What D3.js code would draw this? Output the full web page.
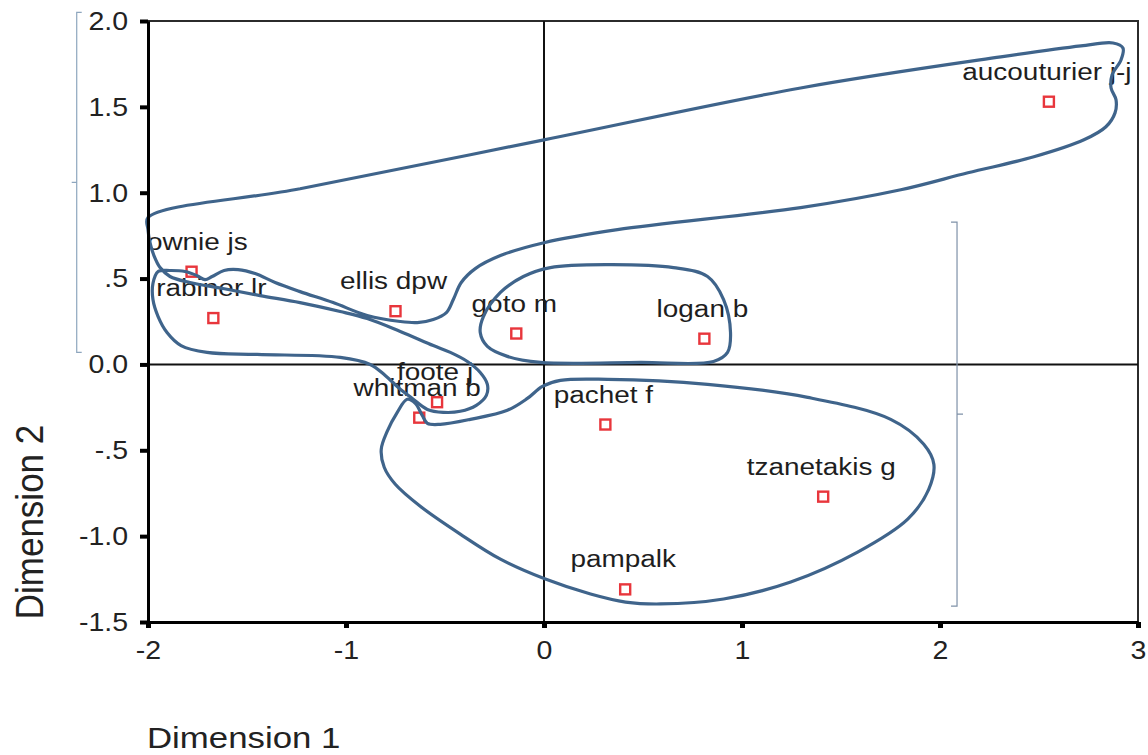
<!DOCTYPE html>
<html><head><meta charset="utf-8">
<script src="https://cdn.jsdelivr.net/npm/d3@7"></script>
<style>html,body{margin:0;padding:0;background:#fff;} svg{display:block;}</style>
</head><body>
<svg id="chart" width="1148" height="755"></svg>
<script>
// ---- data ----
const names = ["aucouturier j-j","downie js","rabiner lr","ellis dpw","goto m","logan b","foote j","whitman b","pachet f","tzanetakis g","pampalk"];
const dim1  = [2.55,-1.78,-1.67,-0.75,-0.14,0.81,-0.54,-0.63,0.31,1.41,0.41];
const dim2  = [1.53, 0.54, 0.27, 0.31, 0.18,0.15,-0.22,-0.31,-0.35,-0.77,-1.31];

const xTicks = [-2,-1,0,1,2,3];
const xTickLabels = ["-2","-1","0","1","2","3"];
const yTicks = [2.0,1.5,1.0,0.5,0.0,-0.5,-1.0,-1.5];
const yTickLabels = ["2.0","1.5","1.0",".5","0.0","-.5","-1.0","-1.5"];
const xTitle = "Dimension 1";
const yTitle = "Dimension 2";

// hand-drawn cluster outlines (data coordinates)
const hullA = [[-2.00,0.855],[-1.232,1.023],[0.00,1.308],[1.296,1.610],[2.307,1.791],[2.712,1.855],[2.874,1.872],[2.924,1.843],[2.914,1.773],[2.869,1.686],[2.864,1.610],[2.889,1.541],[2.884,1.465],[2.838,1.384],[2.727,1.308],[2.474,1.209],[2.141,1.116],[1.802,1.017],[1.296,0.913],[0.371,0.785],[0.00,0.709],[-0.220,0.634],[-0.347,0.558],[-0.418,0.477],[-0.458,0.378],[-0.493,0.302],[-0.559,0.262],[-0.640,0.244],[-0.726,0.250],[-0.893,0.285],[-1.065,0.360],[-1.232,0.424],[-1.358,0.477],[-1.459,0.529],[-1.545,0.552],[-1.616,0.547],[-1.676,0.512],[-1.712,0.494],[-1.752,0.517],[-1.813,0.541],[-1.889,0.547],[-1.949,0.541],[-1.975,0.471],[-1.975,0.378],[-1.949,0.279],[-1.904,0.186],[-1.833,0.110],[-1.702,0.070],[-1.449,0.058],[-1.029,0.041],[-0.878,0.000],[-0.802,-0.064],[-0.736,-0.134],[-0.665,-0.198],[-0.589,-0.262],[-0.509,-0.279],[-0.423,-0.273],[-0.342,-0.238],[-0.291,-0.180],[-0.286,-0.116],[-0.322,-0.047],[-0.387,0.017],[-0.473,0.070],[-0.559,0.110],[-0.726,0.192],[-0.893,0.267],[-1.029,0.308],[-1.232,0.360],[-1.434,0.401],[-1.621,0.442],[-1.788,0.477],[-1.889,0.512],[-1.939,0.564],[-1.970,0.634],[-1.990,0.709],[-2.000,0.785]];
const hullB = [[-0.322,0.186],[-0.306,0.279],[-0.220,0.419],[-0.104,0.512],[0.032,0.564],[0.321,0.581],[0.654,0.564],[0.826,0.512],[0.907,0.378],[0.942,0.186],[0.927,0.070],[0.856,0.017],[0.487,0.012],[-0.018,0.012],[-0.185,0.047],[-0.286,0.105]];
const hullC = [[-0.691,-0.203],[-0.741,-0.279],[-0.792,-0.390],[-0.822,-0.494],[-0.807,-0.599],[-0.751,-0.698],[-0.625,-0.826],[-0.423,-0.988],[-0.220,-1.134],[0.007,-1.250],[0.235,-1.337],[0.412,-1.384],[0.588,-1.395],[0.907,-1.366],[1.246,-1.267],[1.584,-1.093],[1.837,-0.901],[1.943,-0.727],[1.969,-0.581],[1.918,-0.465],[1.751,-0.320],[1.332,-0.192],[0.826,-0.116],[0.321,-0.087],[0.083,-0.093],[-0.008,-0.128],[-0.084,-0.198],[-0.185,-0.267],[-0.372,-0.320],[-0.524,-0.349],[-0.589,-0.343],[-0.615,-0.297],[-0.650,-0.227]];
const hulls = [hullA, hullB, hullC];

// range braces [x, yTop, yBottom]
const braceLeft  = [-2.36, 2.05, 0.07];
const braceRight = [2.086, 0.829, -1.407];

// ---- drawing ----
const svg = d3.select("#chart");
const x = d3.scaleLinear().domain([-2,3]).range([148,1138]);
const y = d3.scaleLinear().domain([-1.5,2]).range([622,21]);
const FONT = "'Liberation Sans', Arial, sans-serif";
const SX = 1.14;

svg.append("defs").append("clipPath").attr("id","plotclip")
  .append("rect").attr("x",x(-2)).attr("y",y(2)).attr("width",x(3)-x(-2)).attr("height",y(-1.5)-y(2));

// frame top / right
svg.append("path").attr("d",`M${x(-2)},${y(2)}H${x(3)}V${y(-1.5)}`)
  .attr("fill","none").attr("stroke","#2b2b2b").attr("stroke-width",2);

// zero lines
svg.append("line").attr("x1",x(0)).attr("x2",x(0)).attr("y1",y(2)).attr("y2",y(-1.5))
  .attr("stroke","#111").attr("stroke-width",2);
svg.append("line").attr("x1",x(-2)).attr("x2",x(3)).attr("y1",y(0)).attr("y2",y(0))
  .attr("stroke","#111").attr("stroke-width",2);

// braces
function brace(b, dirEnd){
  const bx = x(b[0]), y0 = y(b[1]), y1 = y(b[2]), ym = (y0+y1)/2;
  return `M${bx+dirEnd},${y0}H${bx}V${y1}H${bx+dirEnd}M${bx},${ym}H${bx-dirEnd}`;
}
svg.append("path").attr("d",brace(braceLeft,5)).attr("fill","none").attr("stroke","#8ea6be").attr("stroke-width",1.2);
svg.append("path").attr("d",brace(braceRight,-6)).attr("fill","none").attr("stroke","#7f91a8").attr("stroke-width",1.2);

// point labels
const pts = names.map((n,i)=>({n, a:dim1[i], b:dim2[i]}));
svg.append("g").attr("clip-path","url(#plotclip)")
  .selectAll("text").data(pts).join("text")
  .attr("transform",d=>`translate(${x(d.a)-2},${y(d.b)-22}) scale(${SX},1)`)
  .attr("text-anchor","middle").attr("font-family",FONT).attr("font-size",24.5)
  .attr("fill","#1e1e1e").text(d=>d.n);

// markers
svg.append("g").selectAll("rect").data(pts).join("rect")
  .attr("x",d=>x(d.a)-5).attr("y",d=>y(d.b)-5).attr("width",10).attr("height",10)
  .attr("fill","none").attr("stroke","#e8363c").attr("stroke-width",2.4);

// hulls
const line = d3.line().x(d=>x(d[0])).y(d=>y(d[1])).curve(d3.curveCatmullRomClosed.alpha(0.5));
svg.append("g").selectAll("path").data(hulls).join("path")
  .attr("d",line).attr("fill","none").attr("stroke","#3f648b")
  .attr("stroke-width",3.2).attr("stroke-linejoin","round");

// axes
const gy = svg.append("g").attr("transform",`translate(${x(-2)},0)`)
  .call(d3.axisLeft(y).tickValues(yTicks).tickFormat((d,i)=>yTickLabels[i]).tickSize(8).tickSizeOuter(0));
gy.select(".domain").attr("stroke","#000").attr("stroke-width",3);
gy.selectAll(".tick line").attr("stroke","#000").attr("stroke-width",4);
gy.selectAll(".tick text").attr("x",0).attr("dy",null).attr("dominant-baseline","central")
  .attr("transform",`translate(-20,0) scale(${SX},1)`)
  .attr("font-family",FONT).attr("font-size",25).attr("fill","#222");

const gx = svg.append("g").attr("transform",`translate(0,${y(-1.5)})`)
  .call(d3.axisBottom(x).tickValues(xTicks).tickFormat((d,i)=>xTickLabels[i]).tickSize(6).tickSizeOuter(0));
gx.select(".domain").attr("stroke","#000").attr("stroke-width",3);
gx.selectAll(".tick line").attr("stroke","#000").attr("stroke-width",5);
gx.selectAll(".tick text").attr("y",0).attr("dy",null).attr("dominant-baseline","central")
  .attr("transform",`translate(0,29) scale(${SX},1)`)
  .attr("font-family",FONT).attr("font-size",25).attr("fill","#222");

// titles
svg.append("text").attr("transform",`translate(147,748) scale(1.2,1)`)
  .attr("font-family",FONT).attr("font-size",29).attr("fill","#222").text(xTitle);
svg.append("text").attr("transform",`translate(29,522) scale(1.12,1) rotate(-90)`)
  .attr("text-anchor","middle").attr("dominant-baseline","central")
  .attr("font-family",FONT).attr("font-size",35).attr("fill","#222").text(yTitle);
</script>
</body></html>
